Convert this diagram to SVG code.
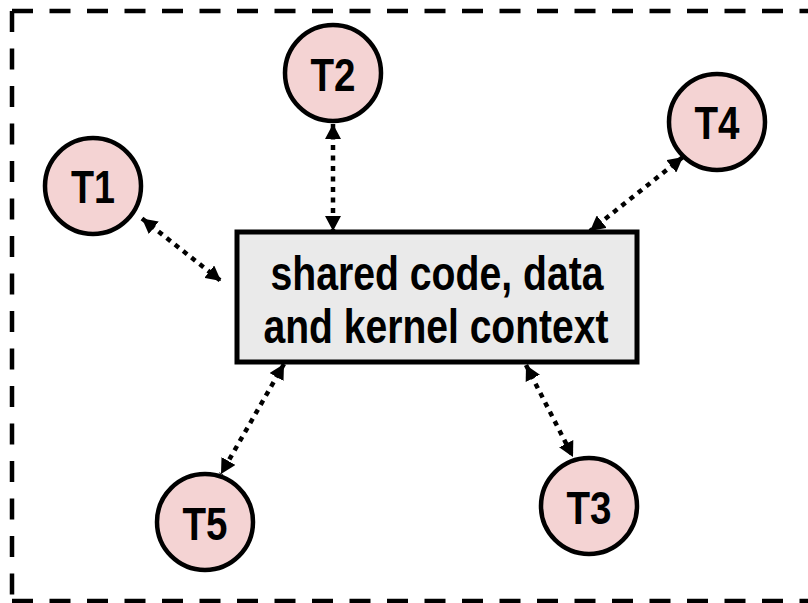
<svg xmlns="http://www.w3.org/2000/svg" width="808" height="603" viewBox="0 0 808 603">
<style>
.border{fill:none;stroke:#000;stroke-width:4.5;stroke-dasharray:21 16.5}
.node circle{fill:#f4d3d3;stroke:#000;stroke-width:4.5}
.box{fill:#eaeaea;stroke:#000;stroke-width:5}
.lbl{font-family:"Liberation Sans Narrow","Liberation Sans",Arial,sans-serif;font-weight:bold;fill:#000;text-anchor:middle}
.tl{font-size:46px}
.bl{font-size:48px}
.conn line{stroke:#000;stroke-width:4.5;stroke-dasharray:5 5.5;marker-start:url(#ah);marker-end:url(#ah)}
</style>
<defs>
<marker id="ah" markerUnits="userSpaceOnUse" markerWidth="16" markerHeight="16" refX="15" refY="8" orient="auto-start-reverse" viewBox="0 0 16 16">
<path d="M0,0 L15,8 L0,16 z" fill="#000"/>
</marker>
</defs>
<rect width="808" height="603" fill="#fff"/>
<g id="frame">
<line class="border" x1="12" y1="11" x2="820" y2="11"/>
<line class="border" x1="12" y1="11" x2="12" y2="601"/>
<line class="border" x1="12" y1="601" x2="820" y2="601"/>
</g>
<g id="connectors" class="conn">
<line x1="333" y1="124" x2="333" y2="231"/>
<line x1="142" y1="218.5" x2="221" y2="281"/>
<line x1="683" y1="157" x2="590" y2="231"/>
<line x1="284" y1="364" x2="221" y2="474"/>
<line x1="526" y1="365" x2="573" y2="457"/>
</g>
<g id="shared">
<rect class="box" x="237" y="232" width="400" height="130"/>
<text class="lbl bl" x="437" y="290" textLength="333" lengthAdjust="spacingAndGlyphs">shared code, data</text>
<text class="lbl bl" x="436" y="343" textLength="345" lengthAdjust="spacingAndGlyphs">and kernel context</text>
</g>
<g id="T1" class="node"><circle cx="93" cy="186" r="48"/><text class="lbl tl" x="93" y="203" textLength="44" lengthAdjust="spacingAndGlyphs">T1</text></g>
<g id="T2" class="node"><circle cx="333" cy="73" r="48"/><text class="lbl tl" x="333" y="91" textLength="45" lengthAdjust="spacingAndGlyphs">T2</text></g>
<g id="T4" class="node"><circle cx="717" cy="122" r="48"/><text class="lbl tl" x="717" y="139" textLength="45" lengthAdjust="spacingAndGlyphs">T4</text></g>
<g id="T5" class="node"><circle cx="205" cy="522" r="48"/><text class="lbl tl" x="205" y="540" textLength="45" lengthAdjust="spacingAndGlyphs">T5</text></g>
<g id="T3" class="node"><circle cx="589" cy="506" r="48"/><text class="lbl tl" x="589" y="524" textLength="45" lengthAdjust="spacingAndGlyphs">T3</text></g>
</svg>
